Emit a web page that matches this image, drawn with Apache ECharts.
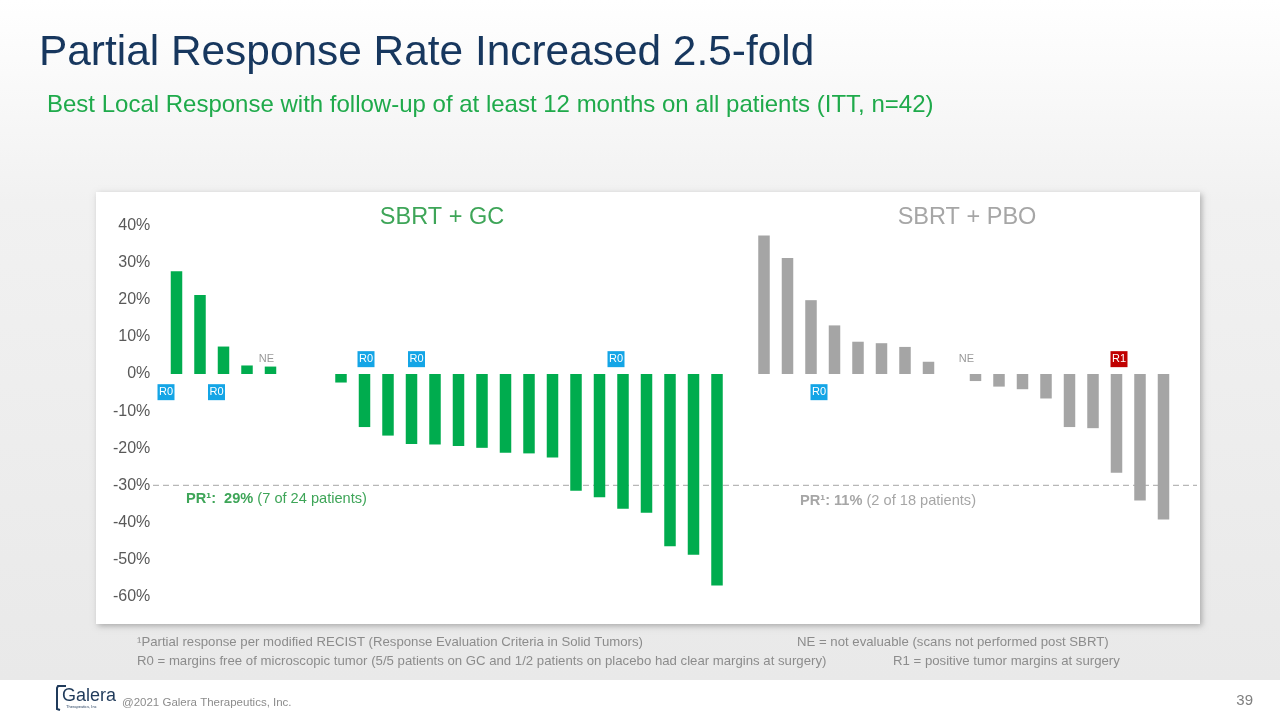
<!DOCTYPE html>
<html>
<head>
<meta charset="utf-8">
<script src="https://cdn.jsdelivr.net/npm/echarts@6/dist/echarts.min.js"></script>
<style>
html,body{margin:0;padding:0;background:#ffffff;}
#chart{width:1280px;height:720px;}
</style>
</head>
<body>
<div id="chart"></div>
<script>
// ---------------- DATA ----------------
// Best local response (% change) per patient, sorted waterfall, SBRT + GC arm (n=24)
const gcValues = [27.7, 21.3, 7.4, 2.3, 2.0, 0, 0, -2.3, -14.3, -16.6, -18.9, -19.0, -19.4, -19.9,
                  -21.2, -21.4, -22.5, -31.5, -33.2, -36.3, -37.4, -46.4, -48.7, -57.0];
// SBRT + PBO arm (n=18)
const pboValues = [37.3, 31.3, 19.9, 13.1, 8.7, 8.3, 7.3, 3.3, 0, -1.9, -3.4, -4.1, -6.6, -14.3,
                   -14.6, -26.6, -34.1, -39.2];
const armNames = ['SBRT + GC', 'SBRT + PBO'];
const prThreshold = -30;                 // partial response cut-off (%)
const yTickValues = [-60, -50, -40, -30, -20, -10, 0, 10, 20, 30, 40];
const prTexts = [
  {bold: 'PR\u00b9:  29%', rest: ' (7 of 24 patients)'},
  {bold: 'PR\u00b9: 11%', rest: ' (2 of 18 patients)'}
];
// margin / evaluability annotations: arm, patient index within arm, text
const annotArm     = ['GC', 'GC', 'GC', 'GC', 'GC', 'GC', 'PBO', 'PBO', 'PBO'];
const annotPatient = [0, 2, 4, 8, 10, 19, 2, 9, 15];
const annotText    = ['R0', 'R0', 'NE', 'R0', 'R0', 'R0', 'R0', 'NE', 'R1'];
const footnotes = [
  '\u00b9Partial response per modified RECIST (Response Evaluation Criteria in Solid Tumors)',
  'NE = not evaluable (scans not performed post SBRT)',
  'R0 = margins free of microscopic tumor (5/5 patients on GC and 1/2 patients on placebo had clear margins at surgery)',
  'R1 = positive tumor margins at surgery'
];

// ---------------- STYLE / LAYOUT ----------------
const FONT = '"Liberation Sans", Arial, sans-serif';
const GREEN = '#00ac4e';
const GREY_BAR = '#a5a5a5';
const annotSide  = ['below', 'below', 'above', 'above', 'above', 'above', 'below', 'above', 'above'];
const annotNudge = [-10.5, -7, -4, 1.5, 5, -7, 8, -9, 2.5];
const annotY = {above: 4.0, below: -4.9};
const annotColor = {R0: '#14a5e6', R1: '#c00000'};

// build categories
const gap = 1;
const categories = [];
gcValues.forEach((v, i) => categories.push('GC ' + (i + 1)));
for (let i = 0; i < gap; i++) categories.push('');
pboValues.forEach((v, i) => categories.push('PBO ' + (i + 1)));
const pboStart = gcValues.length + gap;

const gcSeriesData = categories.map((c, i) => i < gcValues.length ? gcValues[i] : null);
const pboSeriesData = categories.map((c, i) => i >= pboStart ? pboValues[i - pboStart] : null);

const boxData = [], neData = [];
annotText.forEach((t, k) => {
  const idx = (annotArm[k] === 'GC' ? 0 : pboStart) + annotPatient[k];
  const item = {
    value: [idx, annotY[annotSide[k]]],
    symbolOffset: [annotNudge[k], 0]
  };
  if (t === 'NE') {
    neData.push(item);
  } else {
    item.itemStyle = {color: annotColor[t], opacity: 1};
    item.name = t;
    boxData.push(item);
  }
});

const chart = echarts.init(document.getElementById('chart'), null, {renderer: 'canvas'});

const option = {
  animation: false,
  backgroundColor: '#ffffff',
  textStyle: {fontFamily: FONT},
  grid: {left: 164.75, width: 1010.5, top: 225.6, height: 371, containLabel: false},
  xAxis: {
    type: 'category',
    data: categories,
    axisLine: {show: false},
    axisTick: {show: false},
    axisLabel: {show: false},
    splitLine: {show: false}
  },
  yAxis: {
    type: 'value',
    min: yTickValues[0],
    max: yTickValues[yTickValues.length - 1],
    interval: 10,
    axisLine: {show: false},
    axisTick: {show: false},
    splitLine: {show: false},
    axisLabel: {
      formatter: '{value}%',
      color: '#595959',
      fontSize: 16,
      fontFamily: FONT,
      margin: 14.5
    }
  },
  series: [
    {
      name: armNames[0],
      type: 'bar',
      data: gcSeriesData,
      barWidth: 11.5,
      barGap: '-100%',
      itemStyle: {color: GREEN},
      z: 3
    },
    {
      name: armNames[1],
      type: 'bar',
      data: pboSeriesData,
      barWidth: 11.5,
      barGap: '-100%',
      itemStyle: {color: GREY_BAR},
      z: 3
    },
    {
      name: 'margin',
      type: 'scatter',
      data: boxData,
      symbol: 'rect',
      symbolSize: [17, 16],
      itemStyle: {opacity: 1},
      z: 5,
      label: {
        show: true,
        position: 'inside',
        formatter: p => p.name,
        color: '#ffffff',
        fontSize: 11,
        fontFamily: FONT
      }
    },
    {
      name: 'NE',
      type: 'scatter',
      data: neData,
      symbol: 'rect',
      symbolSize: [17, 16],
      itemStyle: {color: 'rgba(0,0,0,0)'},
      z: 5,
      label: {
        show: true,
        position: 'inside',
        formatter: 'NE',
        color: '#7f7f7f',
        fontSize: 11,
        fontFamily: FONT
      }
    }
  ],
  graphic: [
    // slide background
    {
      type: 'rect', z: -30, silent: true,
      shape: {x: 0, y: 0, width: 1280, height: 680},
      style: {
        fill: new echarts.graphic.LinearGradient(0, 0, 0, 1, [
          {offset: 0, color: '#ffffff'},
          {offset: 0.3, color: '#f1f1f1'},
          {offset: 1, color: '#e9e9e9'}
        ])
      }
    },
    // white chart card
    {
      type: 'rect', z: -20, silent: true,
      shape: {x: 96, y: 192, width: 1104, height: 432},
      style: {fill: '#ffffff', shadowBlur: 6, shadowColor: 'rgba(0,0,0,0.28)', shadowOffsetX: 2, shadowOffsetY: 2}
    },
    // title
    {
      type: 'text', z: 10, left: 39, top: 32,
      style: {text: 'Partial Response Rate Increased 2.5-fold', fill: '#17375e', font: '42.4px ' + FONT}
    },
    {
      type: 'text', z: 10, left: 47, top: 93,
      style: {text: 'Best Local Response with follow-up of at least 12 months on all patients (ITT, n=42)', fill: '#1faa4b', font: '24px ' + FONT}
    },
    // arm headers
    {
      type: 'text', z: 10, x: 442, y: 218,
      style: {text: armNames[0], fill: '#3ea558', font: '23.5px ' + FONT, align: 'center', verticalAlign: 'middle'}
    },
    {
      type: 'text', z: 10, x: 967, y: 218,
      style: {text: armNames[1], fill: '#a6a6a6', font: '23.5px ' + FONT, align: 'center', verticalAlign: 'middle'}
    },
    // PR summaries
    {
      type: 'text', z: 10, x: 186, y: 499,
      style: {
        text: '{b|' + prTexts[0].bold + '}{n|' + prTexts[0].rest + '}',
        verticalAlign: 'middle',
        rich: {
          b: {fill: '#3ea558', font: 'bold 14.6px ' + FONT},
          n: {fill: '#3ea558', font: '14.6px ' + FONT}
        }
      }
    },
    {
      type: 'text', z: 10, x: 800, y: 501,
      style: {
        text: '{b|' + prTexts[1].bold + '}{n|' + prTexts[1].rest + '}',
        verticalAlign: 'middle',
        rich: {
          b: {fill: '#a6a6a6', font: 'bold 14.6px ' + FONT},
          n: {fill: '#a6a6a6', font: '14.6px ' + FONT}
        }
      }
    },
    // footnotes
    {type: 'text', z: 10, x: 137, y: 642, style: {text: footnotes[0], fill: '#8c8c8c', font: '13.2px ' + FONT, verticalAlign: 'middle'}},
    {type: 'text', z: 10, x: 797, y: 642, style: {text: footnotes[1], fill: '#8c8c8c', font: '13.2px ' + FONT, verticalAlign: 'middle'}},
    {type: 'text', z: 10, x: 137, y: 661, style: {text: footnotes[2], fill: '#8c8c8c', font: '13.2px ' + FONT, verticalAlign: 'middle'}},
    {type: 'text', z: 10, x: 893, y: 661, style: {text: footnotes[3], fill: '#8c8c8c', font: '13.2px ' + FONT, verticalAlign: 'middle'}},
    // footer
    {type: 'text', z: 10, x: 122, y: 703, style: {text: '@2021 Galera Therapeutics, Inc.', fill: '#8c8c8c', font: '11.5px ' + FONT, verticalAlign: 'middle'}},
    {type: 'text', z: 10, x: 1253, y: 701, style: {text: '39', fill: '#7f7f7f', font: '15px ' + FONT, align: 'right', verticalAlign: 'middle'}},
    // logo
    {
      type: 'polyline', z: 10, silent: true,
      shape: {points: [[66, 686], [58, 686], [57, 688], [57, 709], [60, 710]]},
      style: {stroke: '#1f3a5a', lineWidth: 2, fill: null}
    },
    {type: 'text', z: 10, x: 62, y: 696, style: {text: 'Galera', fill: '#1f3a5a', font: '18px ' + FONT, verticalAlign: 'middle'}},
    {type: 'text', z: 10, x: 66, y: 707, style: {text: 'Therapeutics, Inc', fill: '#1f3a5a', font: '4px ' + FONT, verticalAlign: 'middle'}}
  ]
};

chart.setOption(option);

// PR threshold reference line, placed through the y axis scale
const yPR = chart.convertToPixel({gridIndex: 0}, [0, prThreshold])[1];
chart.setOption({
  graphic: option.graphic.concat([{
    type: 'line', z: 1, silent: true,
    shape: {x1: 153, y1: yPR, x2: 1197, y2: yPR},
    style: {stroke: '#a6a6a6', lineWidth: 1, lineDash: [6, 4]}
  }])
});
</script>
</body>
</html>
